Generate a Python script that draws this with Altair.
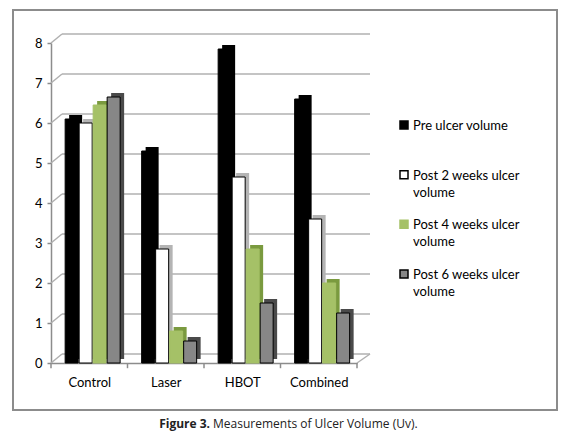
import json
import altair as alt
import pandas as pd

categories = ["Control", "Laser", "HBOT", "Combined"]
series = ["Pre ulcer volume", "Post 2 weeks ulcer volume",
          "Post 4 weeks ulcer volume", "Post 6 weeks ulcer volume"]
pre = [6.1, 5.3, 7.85, 6.6]
post2 = [6.0, 2.85, 4.65, 3.6]
post4 = [6.45, 0.8, 2.85, 2.0]
post6 = [6.65, 0.55, 1.5, 1.25]
y_ticks = [0, 1, 2, 3, 4, 5, 6, 7, 8]

front_colors = ["#000000", "#ffffff", "#a5c167", "#878787"]
side_colors = ["#000000", "#b4b4b4", "#7a9a3f", "#4a4a4a"]
edge_colors = ["#000000", "#000000", "#a5c167", "#000000"]

rows = []
for si, (s, vals) in enumerate(zip(series, [pre, post2, post4, post6])):
    for ci, (c, v) in enumerate(zip(categories, vals)):
        rows.append({"category": c, "series": s, "value": v, "ci": ci, "si": si})
df = pd.DataFrame(rows)
grid_df = pd.DataFrame({"v": y_ticks})
bound_df = pd.DataFrame({"b": list(range(len(categories) + 1))})
leg_df = pd.DataFrame({
    "series": series,
    "label": [s if s.startswith("Pre") else s.replace(" volume", "|volume") for s in series],
})
cap_df = pd.DataFrame({"bold": ["Figure 3."], "rest": ["Measurements of Ulcer Volume (Uv)."]})

FONT = "Lato"
GRID = "#b0b0b0"
AXC = "#8c8c8c"
# layout (in category / value units)
START, STRIDE, BW, DX, DY = 0.185, 0.183, 0.17, 0.052, 0.1
BACK_DX, BACK_DY, BACK_END = 0.144, 0.225, 4.17

x_scale = alt.Scale(domain=[0, 4], range=[38, 344], nice=False, zero=False)
y_scale = alt.Scale(domain=[0, 8], range=[353, 33], nice=False)
fill_scale = alt.Scale(domain=series, range=front_colors)
stroke_scale = alt.Scale(domain=series, range=edge_colors)

label_expr = f"{json.dumps(categories)}[floor(datum.value)]"
x_axis = alt.Axis(title=None, values=[0.5, 1.5, 2.5, 3.5], labelExpr=label_expr,
                  offset=-47, ticks=False, tickSize=0, grid=False,
                  labelFontSize=13, labelFont=FONT, labelColor="#000000",
                  labelPadding=13, domainColor=AXC, domainWidth=1.5)
y_axis = alt.Axis(title=None, values=y_ticks, grid=False, offset=-38,
                  labelFontSize=13, labelFont=FONT, labelColor="#000000",
                  tickSize=4, tickColor=AXC, tickWidth=1.5, domainColor=AXC,
                  domainWidth=1.5, labelPadding=5)


def X(field):
    return alt.X(field, scale=x_scale, axis=x_axis)


def Y(field):
    return alt.Y(field, scale=y_scale, axis=y_axis)


bars = alt.Chart(df).transform_calculate(
    x0=f"datum.ci + {START} + datum.si * {STRIDE}",
    x1=f"datum.ci + {START} + datum.si * {STRIDE} + {BW}",
    sx0=f"datum.ci + {START} + datum.si * {STRIDE} + {DX}",
    sx1=f"datum.ci + {START} + datum.si * {STRIDE} + {BW} + {DX}",
    sy=f"datum.value + {DY}",
    sy2=f"{DY}",
    zero="0",
)

side = bars.mark_rect().encode(
    x=X("sx0:Q"), x2="sx1:Q",
    y=Y("sy:Q"), y2="sy2:Q",
    color=alt.Color("series:N", scale=alt.Scale(domain=series, range=side_colors), legend=None),
)

front = bars.mark_rect(strokeWidth=1).encode(
    x=X("x0:Q"), x2="x1:Q",
    y=Y("value:Q"), y2="zero:Q",
    fill=alt.Fill("series:N", scale=fill_scale, legend=None),
    stroke=alt.Stroke("series:N", scale=stroke_scale, legend=None),
)

grid_base = alt.Chart(grid_df).transform_calculate(
    gx0=f"{BACK_DX}", gx1=f"{BACK_END}", gy=f"datum.v + {BACK_DY}", cx0="0",
)
grid = grid_base.mark_rule(color=GRID, strokeWidth=1.5).encode(
    x=X("gx0:Q"), x2="gx1:Q", y=Y("gy:Q"),
)
conn = grid_base.mark_rule(color=GRID, strokeWidth=1.5).encode(
    x=X("cx0:Q"), x2="gx0:Q", y=Y("v:Q"), y2="gy:Q",
)
floor_end = alt.Chart(grid_df).transform_filter("datum.v == 0").transform_calculate(
    fx0="4", fx1=f"{BACK_END}", fy=f"datum.v + {BACK_DY}",
).mark_rule(color=GRID, strokeWidth=1.5).encode(
    x=X("fx0:Q"), x2="fx1:Q", y=Y("v:Q"), y2="fy:Q",
)
ticks = alt.Chart(bound_df).transform_calculate(t0="0", t1="-0.13").mark_rule(
    color=AXC, strokeWidth=1.5).encode(
    x=X("b:Q"), y=Y("t0:Q"), y2="t1:Q",
)

cap_bold = alt.Chart(cap_df).mark_text(font="Open Sans", fontSize=12, fontWeight="bold",
                                       align="right", baseline="middle", color="#222222").encode(
    x=alt.value(197), y=alt.value(414), text="bold:N")
cap_rest = alt.Chart(cap_df).mark_text(font="Open Sans", fontSize=12, align="left",
                                       baseline="middle", color="#222222").encode(
    x=alt.value(200), y=alt.value(414), text="rest:N")

leg_y = alt.Y("series:N", axis=None,
              scale=alt.Scale(type="point", domain=series, range=[115, 264], padding=0))
leg_sym = alt.Chart(leg_df).mark_square(size=64, strokeWidth=1.5, opacity=1).encode(
    x=alt.value(391), y=leg_y,
    fill=alt.Fill("series:N", scale=fill_scale, legend=None),
    stroke=alt.Stroke("series:N", scale=stroke_scale, legend=None),
)
leg_txt = alt.Chart(leg_df).mark_text(font=FONT, fontSize=13, align="left",
                                      baseline="alphabetic", dy=5, lineBreak="|",
                                      lineHeight=17, color="#000000").encode(
    x=alt.value(400), y=leg_y, text="label:N",
)

plot = alt.layer(grid, conn, floor_end, ticks, side, front, cap_bold, cap_rest)
legend = alt.layer(leg_sym, leg_txt)

chart = alt.layer(plot, legend).resolve_scale(y="independent").properties(
    width=544, height=400,
    autosize=alt.AutoSizeParams(type="none"),
    padding={"left": 5, "top": 2, "right": 5, "bottom": 21},
).configure_view(stroke=AXC, strokeWidth=2)

chart.save("out.html", embed_options={"renderer": "svg", "actions": False})
